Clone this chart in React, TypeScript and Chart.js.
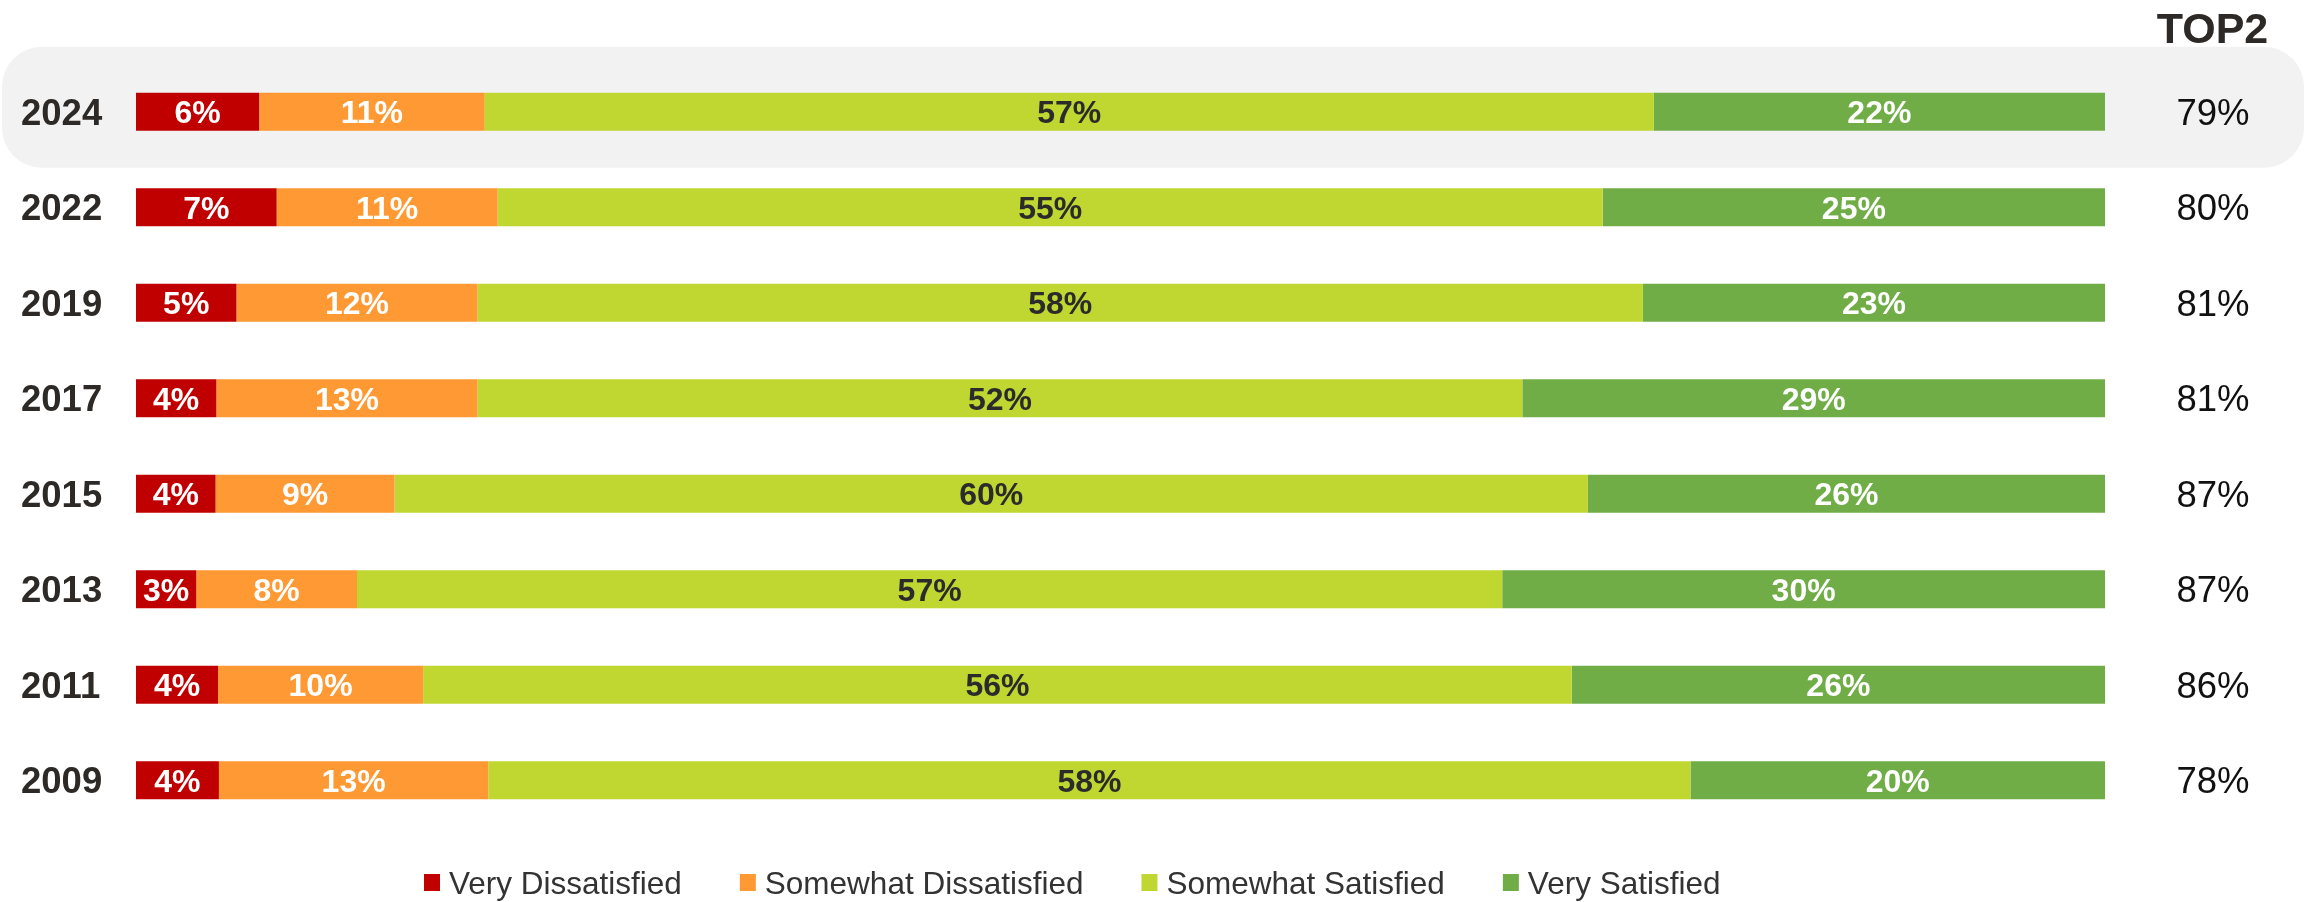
import React, { useEffect, useRef } from 'react';
import { Chart, registerables } from 'chart.js';

Chart.register(...registerables);

const years = ['2024', '2022', '2019', '2017', '2015', '2013', '2011', '2009'];
const veryDissatisfied = [6, 7, 5, 4, 4, 3, 4, 4];
const somewhatDissatisfied = [11, 11, 12, 13, 9, 8, 10, 13];
const somewhatSatisfied = [57, 55, 58, 52, 60, 57, 56, 58];
const verySatisfied = [22, 25, 23, 29, 26, 30, 26, 20];
const top2 = [79, 80, 81, 81, 87, 87, 86, 78];
const top2Header = 'TOP2';
const highlightedYear = '2024';

const seriesNames = ['Very Dissatisfied', 'Somewhat Dissatisfied', 'Somewhat Satisfied', 'Very Satisfied'];
const seriesColors = ['#C00000', '#FF9933', '#BFD730', '#70AD47'];
const labelColors = ['#FFFFFF', '#FFFFFF', '#2B2B2B', '#FFFFFF'];

const FONT = '"Liberation Sans", Arial, Helvetica, sans-serif';

function drawText(
  ctx: CanvasRenderingContext2D,
  text: string,
  x: number,
  yCenter: number,
  size: number,
  bold: boolean,
  color: string,
  align: CanvasTextAlign
) {
  ctx.font = `${bold ? 'bold ' : ''}${size}px ${FONT}`;
  ctx.fillStyle = color;
  ctx.textAlign = align;
  ctx.textBaseline = 'alphabetic';
  ctx.fillText(text, x, yCenter + 0.358 * size);
}

export default function App() {
  const ref = useRef<HTMLCanvasElement>(null);

  useEffect(() => {
    if (!ref.current) return;
    const series = [veryDissatisfied, somewhatDissatisfied, somewhatSatisfied, verySatisfied];
    const totals = years.map((_, i) => series.reduce((s, arr) => s + arr[i], 0));

    const datasets = series.map((arr, k) => ({
      label: seriesNames[k],
      data: arr.map((v, i) => (v / totals[i]) * 100),
      backgroundColor: seriesColors[k],
      borderWidth: 0,
      barPercentage: 0.4,
      categoryPercentage: 1,
    }));

    const overlay = {
      id: 'overlay',
      beforeDatasetsDraw(chart: any) {
        const ctx = chart.ctx as CanvasRenderingContext2D;
        const yScale = chart.scales.y;
        const idx = years.indexOf(highlightedYear);
        if (idx < 0) return;
        const c = yScale.getPixelForValue(idx);
        ctx.save();
        ctx.fillStyle = '#F2F2F2';
        ctx.beginPath();
        (ctx as any).roundRect(2, c - 65, 2302, 121, 40);
        ctx.fill();
        ctx.restore();
      },
      afterDatasetsDraw(chart: any) {
        const ctx = chart.ctx as CanvasRenderingContext2D;
        const yScale = chart.scales.y;
        ctx.save();
        // segment labels
        series.forEach((arr, k) => {
          const meta = chart.getDatasetMeta(k);
          meta.data.forEach((bar: any, i: number) => {
            const p = bar.getProps(['x', 'y', 'base'], true);
            const cx = (p.x + p.base) / 2;
            drawText(ctx, `${arr[i]}%`, cx, p.y, 32, true, labelColors[k], 'center');
          });
        });
        // year labels and TOP2 values
        years.forEach((yr, i) => {
          const cy = yScale.getPixelForValue(i);
          drawText(ctx, yr, 21, cy, 36.5, true, '#2D2926', 'left');
          drawText(ctx, `${top2[i]}%`, 2213, cy, 36.5, false, '#111111', 'center');
        });
        // header
        drawText(ctx, top2Header, 2212.5, 27.5, 43, true, '#2D2926', 'center');
        // legend
        let x = 424;
        const ly = 882.5;
        seriesNames.forEach((name, k) => {
          ctx.fillStyle = seriesColors[k];
          ctx.fillRect(x, ly - 8.5, 16, 17);
          drawText(ctx, name, x + 25, ly, 31.5, false, '#333333', 'left');
          const w = ctx.measureText(name).width;
          x = x + 25 + w + 58;
        });
        ctx.restore();
      },
    };

    const chart = new Chart(ref.current, {
      type: 'bar',
      data: { labels: years, datasets },
      options: {
        indexAxis: 'y',
        responsive: false,
        animation: false,
        layout: { padding: { left: 136, right: 200, top: 64, bottom: 74 } },
        plugins: {
          legend: { display: false },
          tooltip: { enabled: false },
        },
        scales: {
          x: { stacked: true, min: 0, max: 100, display: false },
          y: { stacked: true, display: false },
        },
      },
      plugins: [overlay],
    });
    return () => chart.destroy();
  }, []);

  return (
    <div style={{ position: 'absolute', left: 0, top: 0, width: 2305, height: 902, background: '#FFFFFF' }}>
      <canvas ref={ref} width={2305} height={902} style={{ width: 2305, height: 902, display: 'block' }} />
    </div>
  );
}
